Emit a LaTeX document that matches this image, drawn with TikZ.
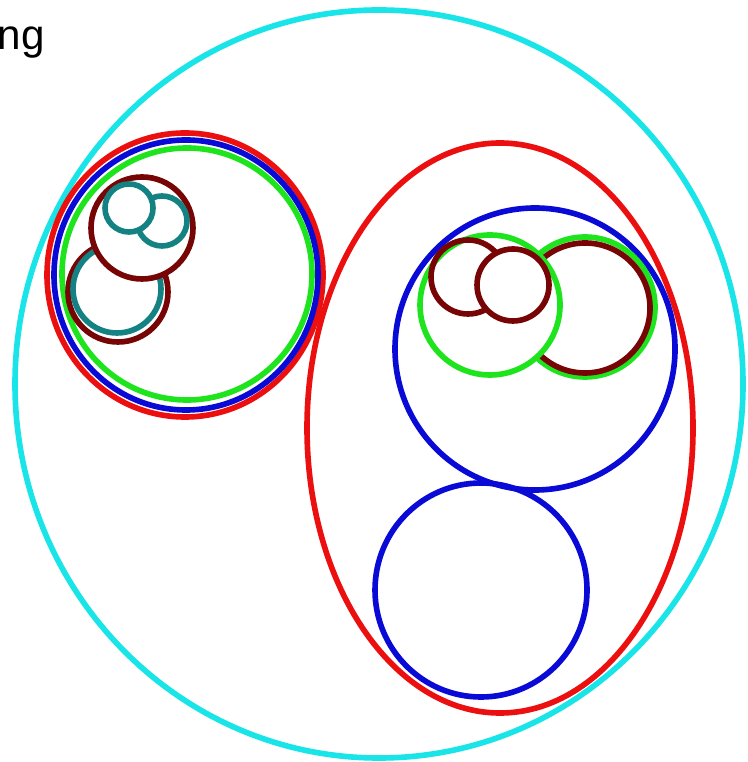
\documentclass[tikz,border=0pt]{standalone}
\usepackage{fontspec}
\setmainfont{Liberation Sans}
\definecolor{setcyan}{RGB}{25,228,232}
\definecolor{setred}{RGB}{235,15,15}
\definecolor{setblue}{RGB}{10,10,215}
\definecolor{setgreen}{RGB}{30,228,30}
\definecolor{setmaroon}{RGB}{120,5,5}
\definecolor{setteal}{RGB}{20,130,130}
\begin{document}
\begin{tikzpicture}[x=0.01cm, y=-0.01cm,
    ring/.style={line width=1.6pt},
    cover/.style={line width=1.6pt, fill=white},
    lbl/.style={font=\fontsize{12}{14}\selectfont, inner sep=0pt, anchor=base west},
  ]
  \useasboundingbox (0,0) rectangle (747,762);

  \node[lbl] (word) at (-3,50) {ng};

  % outermost set
  \draw[ring, draw=setcyan] (379,384) ellipse [x radius=364, y radius=374];

  % left cluster
  \draw[ring, draw=setred]   (185,275) ellipse [x radius=138, y radius=142];
  \draw[ring, draw=setblue]  (186,275) ellipse [x radius=132, y radius=135];
  \draw[ring, draw=setgreen] (187,274) ellipse [x radius=125, y radius=126];
  \draw[ring, draw=setmaroon] (118,292) circle [radius=50];
  \draw[ring, draw=setteal]   (117,289) circle [radius=44];
  \draw[cover, draw=setmaroon] (142,228) circle [radius=51];
  \draw[cover, draw=setteal]   (162,221) circle [radius=25];
  \draw[cover, draw=setteal]   (129,208) circle [radius=24];

  % right cluster
  \draw[ring, draw=setred]  (500,428) ellipse [x radius=193, y radius=285];
  \draw[ring, draw=setblue] (535,349) ellipse [x radius=140, y radius=141];
  \draw[ring, draw=setblue] (481,590) ellipse [x radius=106, y radius=107];
  \draw[ring, draw=setgreen]  (585,307) circle [radius=70];
  \draw[ring, draw=setmaroon] (585,308) circle [radius=65];
  \draw[cover, draw=setgreen] (490,305) circle [radius=70];
  \draw[ring, draw=setmaroon]  (468,277) circle [radius=37];
  \draw[cover, draw=setmaroon] (513,285) circle [radius=36];
\end{tikzpicture}
\end{document}
